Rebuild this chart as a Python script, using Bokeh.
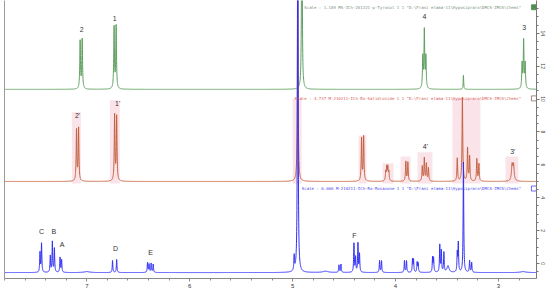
import numpy as np
from bokeh.plotting import figure
from bokeh.models import Range1d, LinearAxis, SingleIntervalTicker, FixedTicker, Label
from bokeh.core.properties import value
from bokeh.embed import file_html
from bokeh.resources import INLINE

# ---- window (ppm axis reversed, relative-intensity axis) ----
PPM_LEFT, PPM_RIGHT = 7.80, 2.63
REL_BOTTOM, REL_TOP = -0.91, 15.99

# ---- green: p-Tyrosol (offset baseline) ----
tyr_base = 10.59
tyr_ppm = [7.065, 7.045, 6.735, 6.715, 4.91, 3.735, 3.72, 3.705, 3.34, 2.77, 2.755, 2.74]
tyr_h   = [2.9, 3.0, 3.75, 3.8, 20.0, 1.9, 3.5, 1.9, 0.85, 1.5, 2.9, 1.5]
tyr_w   = [0.004, 0.004, 0.004, 0.004, 0.003, 0.004, 0.004, 0.004, 0.003, 0.004, 0.004, 0.004]

# ---- red: Salidroside ----
sal_base = 4.99
sal_ppm = [7.10, 7.08, 6.73, 6.71, 4.95, 4.33, 4.31, 4.095, 4.085, 4.075, 4.065,
           3.90, 3.88, 3.74, 3.72, 3.70, 3.68, 3.40, 3.35, 3.30, 3.28, 3.21, 3.19,
           2.867, 2.853]
sal_h   = [3.1, 3.2, 4.0, 3.9, 20.0, 2.6, 2.7, 0.55, 0.8, 0.8, 0.55,
           1.2, 1.15, 0.9, 1.4, 1.05, 0.8, 1.4, 5.1, 2.0, 1.5, 1.35, 1.05,
           0.95, 0.95]
sal_w   = [0.004] * 4 + [0.003] + [0.004] * 18 + [0.007, 0.007]

# pink integration regions of the red trace
band_left  = [7.146, 6.777, 5.000, 4.359, 4.126, 3.951, 3.786, 3.447, 2.932]
band_right = [7.058, 6.680, 4.913, 4.282, 4.019, 3.854, 3.641, 3.175, 2.806]
band_top   = [9.19, 9.92, 10.04, 7.79, 6.09, 6.51, 6.76, 10.04, 6.51]

# ---- blue: Rosavin extract ----
ros_base = -0.55
ros_ppm = [7.455, 7.44, 7.355, 7.335, 7.315, 7.26, 7.245, 7.00, 6.75, 6.71,
           6.41, 6.395, 6.375, 6.355, 4.985, 4.95, 4.68, 4.55, 4.53,
           4.404, 4.388, 4.365, 4.35, 4.155, 4.136, 3.913, 3.893, 3.835, 3.825,
           3.79, 3.78, 3.64, 3.63, 3.57, 3.555, 3.53, 3.49, 3.40, 3.39, 3.34,
           3.28, 3.26, 2.76]
ros_h   = [1.2, 1.75, 1.0, 1.85, 1.45, 0.9, 0.75, 0.06, 0.73, 0.79,
           0.6, 0.5, 0.55, 0.5, 0.9, 25.0, 0.08, 0.45, 0.5,
           1.75, 0.9, 1.75, 1.1, 0.72, 0.7, 0.72, 0.7, 0.78, 0.75,
           0.6, 0.55, 0.9, 0.85, 1.65, 1.3, 1.2, 0.4, 1.15, 1.75, 6.7,
           0.72, 0.6, 0.06]
ros_w   = [0.0035] * 7 + [0.03] + [0.0035] * 8 + [0.03] + [0.0035] * 19 + [0.012] \
          + [0.0035] * 5 + [0.03]

# ---- text annotations ----
hdr_text = ['Scale : 1.189  MS-ICh-201221-p-Tyrosol  1  1  "D:\\Franz elama-11\\Hyposipraro\\DMCS-ZMCS\\Chems"',
            'Scale : 4.737  M-210211-ICh-Ro-Salidroside  1  1  "D:\\Franz elama-11\\Hyposipraro\\DMCS-ZMCS\\Chems"',
            'Scale : 6.000  M-210211-ICh-Ro-Rosavone  1  1  "D:\\Franz elama-11\\Hyposipraro\\DMCS-ZMCS\\Chems"']
hdr_rel = [15.58, 10.04, 4.56]
hdr_ppm = 2.685
hdr_color = ["#7d927d", "#d86060", "#4848f0"]
box_ppm = 2.655

lab_text = ["2", "1", "4", "3", "2'", "1'", "4'", "3'", "C", "B", "A", "D", "E", "F"]
lab_ppm  = [7.05, 6.73, 3.72, 2.75, 7.09, 6.70, 3.71, 2.86, 7.44, 7.32, 7.24, 6.72, 6.38, 4.40]
lab_rel  = [14.24, 14.91, 15.03, 14.36, 9.0, 9.74, 7.12, 6.80, 1.95, 1.95, 1.16, 0.91, 0.67, 1.70]


def trace(base, ppm, h, w):
    x = np.union1d(np.linspace(PPM_RIGHT, PPM_LEFT, 7000), np.array(ppm))
    y = np.full_like(x, base)
    for c, a, g in zip(ppm, h, w):
        y += a * g * g / ((x - c) ** 2 + g * g)
    return x, y


p = figure(width=550, height=291, output_backend="svg", toolbar_location=None,
           x_range=Range1d(PPM_LEFT, PPM_RIGHT), y_range=Range1d(REL_BOTTOM, REL_TOP),
           y_axis_location="right", min_border=0,
           min_border_left=4, min_border_right=14, min_border_bottom=13, min_border_top=0)
p.outline_line_color = None
p.xgrid.visible = False
p.ygrid.visible = False
p.background_fill_color = "white"

# bottom ppm axis
xa = p.xaxis[0]
xa.ticker = SingleIntervalTicker(interval=1, num_minor_ticks=5)
xa.major_label_text_font_size = "6px"
xa.major_label_text_font = "Liberation Sans"
xa.major_label_text_color = "#333333"
xa.major_label_standoff = 2
xa.major_tick_out = 3
xa.major_tick_in = 0
xa.minor_tick_out = 2
xa.minor_tick_in = 0
xa.axis_line_color = "#8a8a8a"
xa.major_tick_line_color = "#8a8a8a"
xa.minor_tick_line_color = "#8a8a8a"

# right intensity axis
ya = p.yaxis[0]
ya.ticker = SingleIntervalTicker(interval=2, num_minor_ticks=4)
ya.major_label_orientation = "vertical"
ya.major_label_text_font_size = "5px"
ya.major_label_text_font = "Liberation Sans"
ya.major_label_text_color = "#444444"
ya.major_label_standoff = 1
ya.major_tick_out = 3
ya.major_tick_in = 0
ya.minor_tick_out = 2
ya.minor_tick_in = 0
ya.axis_line_color = "#777777"
ya.major_tick_line_color = "#777777"
ya.minor_tick_line_color = "#777777"

# plain left border line
la = LinearAxis(ticker=FixedTicker(ticks=[]), major_label_text_font_size="0px",
                major_tick_line_color=None, minor_tick_line_color=None,
                axis_line_color="#9a9a9a", major_label_standoff=0)
p.add_layout(la, "left")

# integration regions
p.quad(left=band_left, right=band_right, bottom=[sal_base - 0.12] * len(band_left), top=band_top,
       fill_color="#fbe4e9", line_color=None)

# spectra
for base, ppm, h, w, col in [(tyr_base, tyr_ppm, tyr_h, tyr_w, "#5e9e5e"),
                             (sal_base, sal_ppm, sal_h, sal_w, "#c2603f"),
                             (ros_base, ros_ppm, ros_h, ros_w, "#3030f4")]:
    x, y = trace(base, ppm, h, w)
    p.line(x, y, line_color=col, line_width=1)

# headers
p.text(x=[hdr_ppm] * 3, y=hdr_rel, text=hdr_text, text_align="right", text_baseline="middle",
       text_font=value("DejaVu Sans Mono"), text_font_size="4.05px", text_color=hdr_color)
p.scatter(x=[box_ppm] * 3, y=hdr_rel, marker="square", size=5,
          fill_color=["#4f8f4f", "white", "white"], line_color=["#4f8f4f", "#8a6a6a", "#4848f0"],
          line_width=0.8)

# peak labels
p.text(x=lab_ppm, y=lab_rel, text=lab_text, text_align="center", text_baseline="middle",
       text_font=value("Liberation Sans"), text_font_size="7px", text_color="#333333")

p.add_layout(Label(x=2.685, y=REL_BOTTOM, y_offset=-5, text="[ppm]", text_align="center",
                   text_baseline="top", text_font_size="5.5px", text_color="#333333",
                   text_font="Liberation Sans"))
p.add_layout(Label(x=PPM_RIGHT, y=15.3, x_offset=7, text="[rel]", text_align="center",
                   text_baseline="middle", angle=np.pi / 2, text_font_size="5.5px",
                   text_color="#333333", text_font="Liberation Sans"))

open("out.html", "w").write(file_html(p, INLINE))
